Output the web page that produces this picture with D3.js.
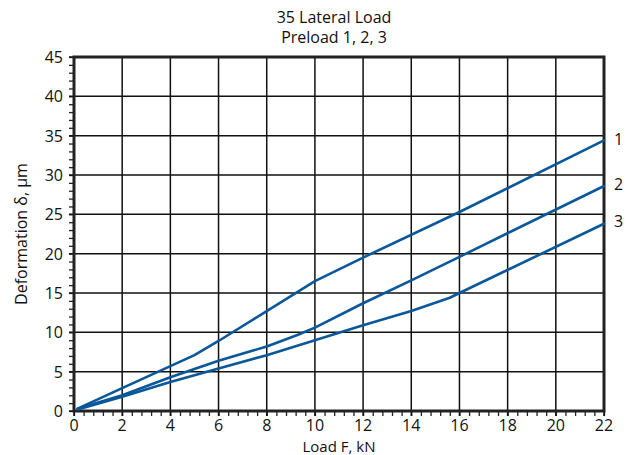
<!DOCTYPE html>
<html lang="en">
<head>
    <meta charset="UTF-8">
    <title>35 Lateral Load - Preload 1, 2, 3</title>
    <script src="https://d3js.org/d3.v7.min.js"></script>
    <style>
body {
    margin: 0;
    background: #fff;
    font-family: "Open Sans", "Noto Sans", sans-serif;
}
svg text {
    fill: #111;
}
    </style>
</head>
<body>
    <svg id="chart" width="633" height="455"></svg>
    <script>
const width = 633;
const height = 455;
const margin = { top: 57, right: 29, bottom: 44, left: 74 };

const titleLines = ["35 Lateral Load", "Preload 1, 2, 3"];
const xLabel = "Load F, kN";
const yLabel = "Deformation \u03b4, \u00b5m";

const xTicks = [0, 2, 4, 6, 8, 10, 12, 14, 16, 18, 20, 22];
const yTicks = [0, 5, 10, 15, 20, 25, 30, 35, 40, 45];

// preload curves, values
const preload1 = [[0.15, 0.3], [2, 2.9], [4, 5.7], [5, 7.1], [6, 8.9], [8, 12.7], [10, 16.5], [12, 19.5], [16, 25.3], [22, 34.4]];
const preload2 = [[0.15, 0.3], [2, 2.0], [4, 4.3], [6, 6.4], [8, 8.2], [9.3, 9.7], [10, 10.6], [12, 13.7], [14, 16.6], [16, 19.6], [22, 28.6]];
const preload3 = [[0.15, 0.2], [2, 1.8], [4, 3.7], [6, 5.4], [8, 7.1], [10, 9.0], [12, 10.9], [14, 12.7], [15.6, 14.4], [16, 15.0], [22, 23.8]];
const seriesNames = ["1", "2", "3"];
const labelValues = [34.6, 28.9, 24.1];

const series = [preload1, preload2, preload3];

const x = d3.scaleLinear().domain([0, 22]).range([margin.left, width - margin.right]);
const y = d3.scaleLinear().domain([0, 45]).range([height - margin.bottom, margin.top]);

const svg = d3.select("#chart");

// minor ticks
svg.append("g")
    .attr("transform", "translate(0," + (height - margin.bottom) + ")")
    .call(d3.axisBottom(x).tickValues(d3.range(0, 22.01, 0.4)).tickSize(5).tickFormat(""))
    .call(g => g.select(".domain").remove())
    .call(g => g.selectAll("line").attr("stroke", "#222").attr("stroke-width", 1.3));

svg.append("g")
    .attr("transform", "translate(" + margin.left + ",0)")
    .call(d3.axisLeft(y).tickValues(d3.range(0, 46, 1)).tickSize(5).tickFormat(""))
    .call(g => g.select(".domain").remove())
    .call(g => g.selectAll("line").attr("stroke", "#222").attr("stroke-width", 1.3));

// grid
svg.append("g")
    .selectAll("line")
    .data(xTicks)
    .join("line")
    .attr("x1", d => x(d)).attr("x2", d => x(d))
    .attr("y1", y(45)).attr("y2", y(0) + 5)
    .attr("stroke", "#111").attr("stroke-width", 1.5);

svg.append("g")
    .selectAll("line")
    .data(yTicks)
    .join("line")
    .attr("x1", x(0) - 5).attr("x2", x(22))
    .attr("y1", d => y(d)).attr("y2", d => y(d))
    .attr("stroke", "#111").attr("stroke-width", 1.5);

// frame
svg.append("rect")
    .attr("x", x(0)).attr("y", y(45))
    .attr("width", x(22) - x(0)).attr("height", y(0) - y(45))
    .attr("fill", "none").attr("stroke", "#222").attr("stroke-width", 3);

// tick labels
svg.append("g")
    .selectAll("text")
    .data(xTicks)
    .join("text")
    .attr("x", d => x(d))
    .attr("y", y(0) + 20)
    .attr("text-anchor", "middle")
    .attr("font-size", 16)
    .text(d => d);

svg.append("g")
    .selectAll("text")
    .data(yTicks)
    .join("text")
    .attr("x", x(0) - 11)
    .attr("y", d => y(d) + 6)
    .attr("text-anchor", "end")
    .attr("font-size", 16)
    .text(d => d);

// curves
const line = d3.line().x(d => x(d[0])).y(d => y(d[1]));

svg.append("g")
    .selectAll("path")
    .data(series)
    .join("path")
    .attr("d", line)
    .attr("fill", "none")
    .attr("stroke", "#0a5799")
    .attr("stroke-width", 2.6)
    .attr("stroke-linejoin", "round")
    .attr("stroke-linecap", "round");

svg.append("g")
    .selectAll("text")
    .data(seriesNames)
    .join("text")
    .attr("x", x(22) + 10)
    .attr("y", (d, i) => y(labelValues[i]) + 6)
    .attr("font-size", 16)
    .text(d => d);

// titles
svg.append("g")
    .selectAll("text")
    .data(titleLines)
    .join("text")
    .attr("x", 334)
    .attr("y", (d, i) => 23 + i * 20)
    .attr("text-anchor", "middle")
    .attr("font-size", 16)
    .text(d => d);

svg.append("text")
    .attr("x", (x(0) + x(22)) / 2)
    .attr("y", height - 3)
    .attr("text-anchor", "middle")
    .attr("font-size", 15)
    .text(xLabel);

svg.append("text")
    .attr("transform", "translate(27," + ((y(0) + y(45)) / 2) + ") rotate(-90)")
    .attr("text-anchor", "middle")
    .attr("font-size", 16)
    .text(yLabel);
    </script>
</body>
</html>
